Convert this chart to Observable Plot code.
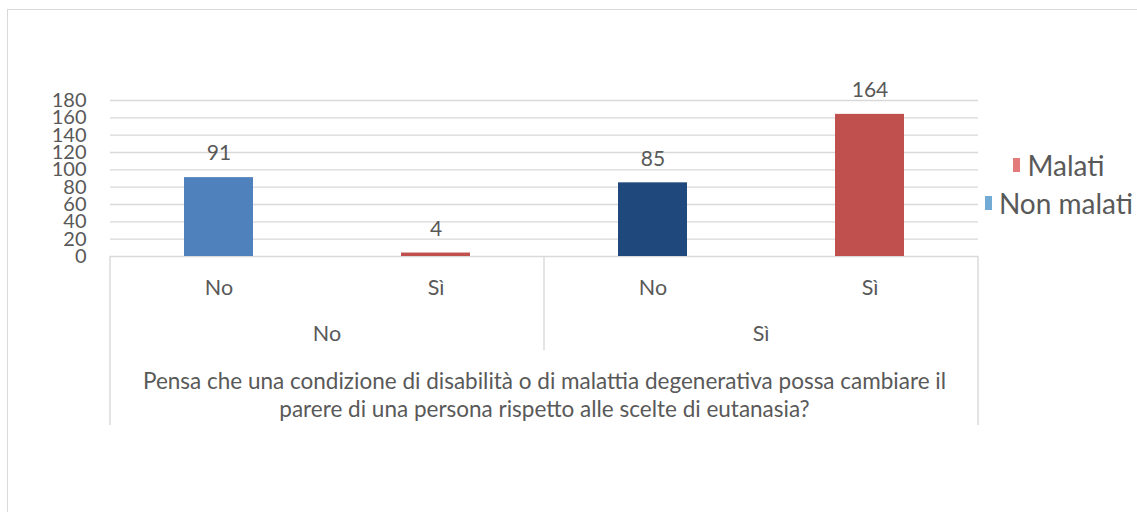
<!DOCTYPE html>
<html>
<head>
<meta charset="utf-8">
<script src="https://cdn.jsdelivr.net/npm/d3@7"></script>
<script src="https://cdn.jsdelivr.net/npm/@observablehq/plot@0.6"></script>
<style>
  html, body { margin: 0; padding: 0; background: #fff; }
  #chart { position: relative; width: 1137px; height: 512px; overflow: hidden; font-family: Lato, "Open Sans", sans-serif; color: #595959; }
  #chart .outline { position: absolute; left: 7px; top: 9px; right: -4px; bottom: -4px;
    border-left: 1.4px solid #d9d9d9; border-top: 1.4px solid #d9d9d9; pointer-events: none; }
  #legend { position: absolute; left: 978px; top: 146px; width: 162px;
    display: flex; flex-direction: column; align-items: center; font-size: 28px; line-height: 38px; }
  #legend .item { display: flex; align-items: center; white-space: nowrap; }
  #legend .swatch { display: inline-block; width: 7px; height: 14px; margin-right: 7px; }
</style>
</head>
<body>
<div id="chart"><div class="outline"></div></div>
<script>
// Outer grouping: the answer to the question on the axis
const groups = ["No", "Sì"];
// One row per bar
const outerAnswers = ["No", "No", "Sì", "Sì"];
const innerAnswers = ["No", "Sì", "No", "Sì"];
const seriesNames = ["Non malati", "Malati", "Non malati", "Malati"];
const counts = [91, 4, 85, 164];
const yTicks = [0, 20, 40, 60, 80, 100, 120, 140, 160, 180];
const questionText = [
  "Pensa che una condizione di disabilità o di malattia degenerativa possa cambiare il",
  "parere di una persona rispetto alle scelte di eutanasia?"
];
const legendNames = ["Malati", "Non malati"];

// Styling
const barFills = ["#4F81BD", "#C0504D", "#1F497D", "#C0504D"];
const legendFills = { "Malati": "#E47B7B", "Non malati": "#72ACD6" };
const gridColor = "#d9d9d9";
const textColor = "#595959";
const labelSize = 21.5;

const rows = counts.map((value, i) => ({
  key: outerAnswers[i] + "|" + innerAnswers[i],
  outer: outerAnswers[i],
  inner: innerAnswers[i],
  series: seriesNames[i],
  value,
  fill: barFills[i]
}));

// Two-level category axis: box lines below the baseline plus the group labels
function categoryAxis(index, scales, values, dimensions) {
  const {x} = scales;
  const {width, height, marginLeft, marginRight, marginBottom} = dimensions;
  const y0 = height - marginBottom;
  const left = marginLeft, right = width - marginRight;
  const bw = x.bandwidth();
  const g = d3.create("svg:g");
  const lines = g.append("g").attr("stroke", gridColor).attr("stroke-width", 1.4);
  lines.append("line").attr("x1", left).attr("x2", left).attr("y1", y0).attr("y2", y0 + 169);
  lines.append("line").attr("x1", right).attr("x2", right).attr("y1", y0).attr("y2", y0 + 169);
  groups.forEach((grp, gi) => {
    const keys = rows.filter(r => r.outer === grp).map(r => r.key);
    const x0 = x(keys[0]), x1 = x(keys[keys.length - 1]) + bw;
    if (gi > 0) lines.append("line").attr("x1", x0).attr("x2", x0).attr("y1", y0).attr("y2", y0 + 94);
    g.append("text")
      .attr("x", (x0 + x1) / 2).attr("y", y0 + 78).attr("dy", "0.32em")
      .attr("text-anchor", "middle").attr("fill", textColor)
      .attr("font-size", labelSize)
      .text(grp);
  });
  return g.node();
}

const plot = Plot.plot({
  width: 1137,
  height: 512,
  marginLeft: 110,
  marginRight: 159,
  marginTop: 100,
  marginBottom: 256,
  style: { background: "transparent", color: textColor, fontFamily: "Lato, 'Open Sans', sans-serif", fontSize: "20px" },
  x: { domain: rows.map(d => d.key), padding: 0, axis: null },
  y: { domain: [0, 180], axis: null },
  marks: [
    Plot.ruleY(yTicks, { stroke: gridColor, strokeWidth: 1.4 }),
    Plot.axisY({ ticks: yTicks, tickSize: 0, tickPadding: 24, fontSize: 20, label: null }),
    Plot.barY(rows, { x: "key", y: "value", fill: "fill", insetLeft: 74, insetRight: 74 }),
    Plot.text(rows, { x: "key", y: "value", text: d => String(d.value), dy: -24, fontSize: 21, fill: textColor }),
    Plot.text(rows, { x: "key", text: "inner", frameAnchor: "bottom", lineAnchor: "middle", dy: 32, fontSize: labelSize, fill: textColor }),
    categoryAxis,
    Plot.text([questionText[0]], { frameAnchor: "bottom", lineAnchor: "middle", dy: 125, fontSize: 22.5, fill: textColor }),
    Plot.text([questionText[1]], { frameAnchor: "bottom", lineAnchor: "middle", dy: 153, fontSize: 22.5, fill: textColor })
  ]
});

const chart = document.getElementById("chart");
chart.insertBefore(plot, chart.firstChild);

const legend = document.createElement("div");
legend.id = "legend";
legendNames.forEach(name => {
  const item = document.createElement("div");
  item.className = "item";
  const sw = document.createElement("span");
  sw.className = "swatch";
  sw.style.background = legendFills[name];
  item.appendChild(sw);
  item.appendChild(document.createTextNode(name));
  legend.appendChild(item);
});
chart.appendChild(legend);
</script>
</body>
</html>
